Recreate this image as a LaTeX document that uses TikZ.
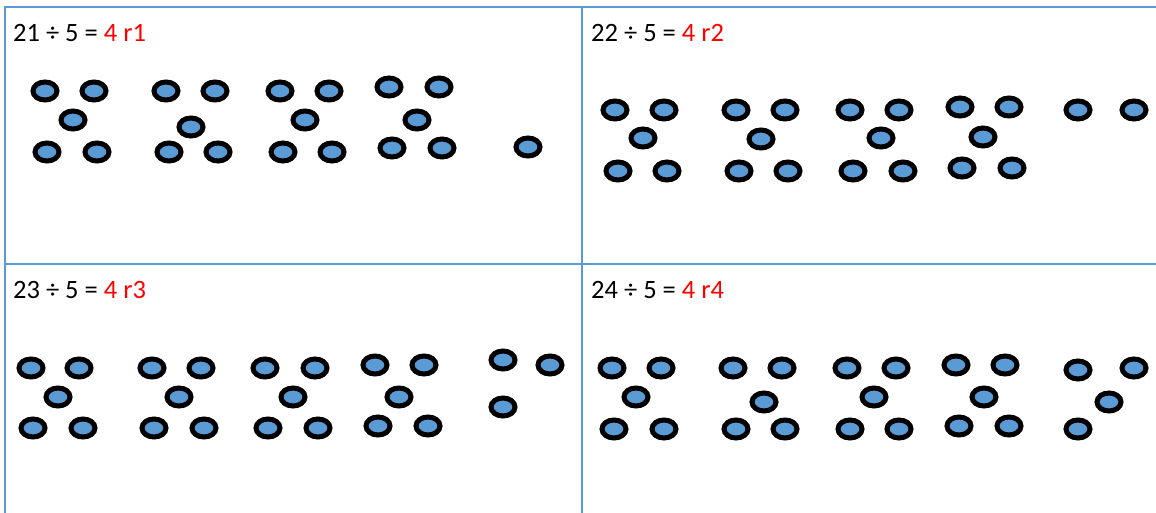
\documentclass[tikz,border=0pt]{standalone}
\usepackage{fontspec}
\setmainfont{Carlito}
\definecolor{cellline}{HTML}{5B9BD5}
\definecolor{counterfill}{HTML}{5B9BD5}
\definecolor{answerred}{HTML}{FF0000}
\begin{document}
\begin{tikzpicture}[x=1pt,y=-1pt,
  counter/.style={draw=black, line width=5pt, fill=counterfill},
  gridline/.style={draw=cellline, line width=2pt},
  eq/.style={anchor=base west, inner sep=0pt, font=\fontsize{26.5}{31}\selectfont}]
\useasboundingbox (0,0) rectangle (1156,513);
\fill[white] (0,0) rectangle (1156,513);
% grid
\draw[gridline] (5,513) -- (5,7) -- (1156,7);
\draw[gridline] (582,7) -- (582,513);
\draw[gridline] (5,264) -- (1156,264);
% equations
\node[eq] (e1) at (13,41.5) {21 ÷ 5 = \textcolor{answerred}{4 r1}};
\node[eq] (e2) at (591,41.5) {22 ÷ 5 = \textcolor{answerred}{4 r2}};
\node[eq] (e3) at (13,298) {23 ÷ 5 = \textcolor{answerred}{4 r3}};
\node[eq] (e4) at (591,298) {24 ÷ 5 = \textcolor{answerred}{4 r4}};
% counters cell 1
\foreach \x/\y in {45/91,94/91,73/120,47/152,97/152,
  166/91,215/91,191/127,169/152,218/152,
  280/91,329/91,305/120,283/152,332/152,
  389/87,439/87,417/120,392/148,442/148,
  528/147}
  \draw[counter] (\x,\y) ellipse [x radius=12, y radius=9];
% counters cell 2
\foreach \x/\y in {615/110,664/110,643/138,618/171,667/171,
  736/110,785/110,761/139,739/171,788/171,
  850/110,899/110,881/138,853/171,903/171,
  960/107,1009/107,983/137,962/168,1012/168,
  1078/110,1134/110}
  \draw[counter] (\x,\y) ellipse [x radius=12, y radius=9];
% counters cell 3
\foreach \x/\y in {31/368,79/368,58/397,33/428,83/428,
  152/368,201/368,179/397,154/428,204/428,
  265/368,315/368,293/397,268/428,318/428,
  375/365,424/365,399/397,378/426,428/426,
  503/360,550/365,503/407}
  \draw[counter] (\x,\y) ellipse [x radius=12, y radius=9];
% counters cell 4
\foreach \x/\y in {612/368,661/368,636/397,614/429,664/429,
  733/368,782/368,764/402,736/429,785/429,
  847/368,896/368,874/397,850/429,899/429,
  956/365,1005/365,984/397,959/426,1009/426,
  1078/370,1134/368,1109/402,1078/429}
  \draw[counter] (\x,\y) ellipse [x radius=12, y radius=9];
\end{tikzpicture}
\end{document}
